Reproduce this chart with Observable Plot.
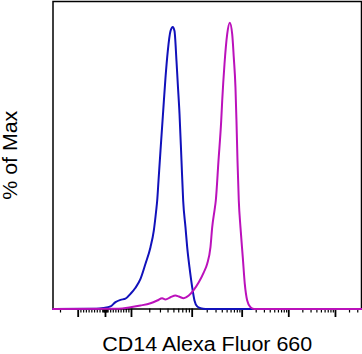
<!DOCTYPE html>
<html><head><meta charset="utf-8">
<script src="https://cdn.jsdelivr.net/npm/d3@7"></script>
<script src="https://cdn.jsdelivr.net/npm/@observablehq/plot@0.6"></script>
<style>html,body{margin:0;padding:0;background:#fff}svg{display:block}</style>
</head><body><div id="chart"></div>
<script>
// Channel positions (0–1024 display channels) and % of max
const blueChannel = [0, 144.4, 167.6, 190.8, 207.4, 224.0, 240.6, 257.2, 273.8, 290.4, 307.0, 323.6, 334.6, 342.5, 345.8, 350.2, 356.8, 365.8, 373.4, 381.0, 390.0, 397.6, 403.3, 409.9, 414.2, 419.9, 426.5, 432.1, 439.8, 445.4, 453.0, 462.0, 469.6, 478.6, 489.6, 506.1, 1024];
const bluePct     = [0, 0.1, 0.35, 0.9, 2.4, 3.2, 3.6, 5.3, 7.4, 10.5, 15.8, 21.6, 27.4, 34.4, 37.8, 44.8, 55.3, 69.2, 80.8, 90.1, 97.1, 98.5, 97.1, 86.6, 78.6, 68.2, 51.8, 37.8, 28.5, 21.6, 14.6, 7.6, 3.0, 0.9, 0.3, 0, 0];
const magChannel  = [0, 217.4, 257.2, 290.4, 323.6, 345.8, 362.4, 373.4, 390.0, 406.6, 417.5, 434.1, 450.7, 467.3, 483.9, 500.5, 511.8, 522.7, 528.4, 536.0, 540.3, 549.3, 558.3, 561.6, 569.2, 578.2, 586.8, 594.8, 600.1, 605.7, 609.0, 612.4, 616.7, 622.3, 629.9, 636.6, 644.6, 655.5, 668.8, 1024];
const magPct      = [0, 0.1, 0.63, 1.22, 2.02, 2.96, 3.77, 3.31, 4.11, 4.71, 4.36, 3.77, 4.71, 6.7, 9.35, 12.8, 15.8, 21.6, 28.5, 34.4, 37.8, 51.8, 65.7, 72.7, 85.5, 96.0, 100, 96.0, 87.8, 77.3, 65.7, 51.8, 37.8, 28.5, 18.1, 8.8, 3.0, 0.63, 0, 0];

// Axis tick positions (channels): majors of the biexponential axis
const majorTicks = [83.6, 174.2, 260.5, 462.0, 627.9, 782.6, 937.6];
const extraTicks = [24.9];
const xLabel = "CD14 Alexa Fluor 660";
const yLabel = "% of Max";

// minor ticks: log-spaced (2..9) inside each full decade, near-linear around zero
const minorTicks = [...extraTicks];
for (let i = 0; i < 2; i++) {
  const a = majorTicks[i], b = majorTicks[i + 1];
  for (let k = 1; k < 10; k++) minorTicks.push(a + (b - a) * k / 10);
}
[-6, -3, -1.5, 1.5, 3, 6].forEach(d => minorTicks.push(majorTicks[1] + d));
for (let i = 2; i < majorTicks.length; i++) {
  const a = majorTicks[i];
  const w = i + 1 < majorTicks.length ? majorTicks[i + 1] - a : majorTicks[i] - majorTicks[i - 1];
  for (let m = 2; m <= 9; m++) {
    const t = a + w * Math.log10(m);
    if (t < 1024) minorTicks.push(t);
  }
}

const blue = blueChannel.map((x, i) => ({x, y: bluePct[i]}));
const mag = magChannel.map((x, i) => ({x, y: magPct[i]}));
const font = "'Liberation Sans', Arial, Helvetica, sans-serif";

const plot = Plot.plot({
  width: 362,
  height: 354,
  marginLeft: 52.5,
  marginRight: 1,
  marginTop: 1,
  marginBottom: 45.5,
  style: {background: "#fff", fontFamily: font, overflow: "visible"},
  x: {domain: [0, 1024]},
  y: {domain: [0, 107.4], axis: null},
  marks: [
    Plot.frame({stroke: "#000", strokeWidth: 1.5}),
    Plot.axisX(minorTicks, {tickSize: 4, strokeWidth: 1.2, stroke: "#000", tickFormat: () => "", label: null}),
    Plot.axisX(majorTicks, {tickSize: 8.5, strokeWidth: 1.8, stroke: "#000", tickFormat: () => "", label: null}),
    Plot.line(blue, {x: "x", y: "y", stroke: "#1111bb", strokeWidth: 2, curve: "monotone-x"}),
    Plot.line(mag, {x: "x", y: "y", stroke: "#bb11bb", strokeWidth: 2, curve: "monotone-x"}),
    Plot.text([xLabel], {text: d => d, frameAnchor: "bottom", lineAnchor: "bottom", dy: 42, fontSize: 19.5, fill: "#000", fontFamily: font}),
    Plot.text([yLabel], {text: d => d, frameAnchor: "left", rotate: -90, textAnchor: "middle", lineAnchor: "bottom", dx: -36, fontSize: 19.5, fill: "#000", fontFamily: font})
  ]
});
d3.select(plot).selectAll("text").each(function () {
  if (this.textContent === xLabel) d3.select(this).attr("textLength", 210).attr("lengthAdjust", "spacingAndGlyphs");
  if (this.textContent === yLabel) d3.select(this).attr("textLength", 89).attr("lengthAdjust", "spacingAndGlyphs");
});
document.getElementById("chart").appendChild(plot);
</script>
</body></html>
